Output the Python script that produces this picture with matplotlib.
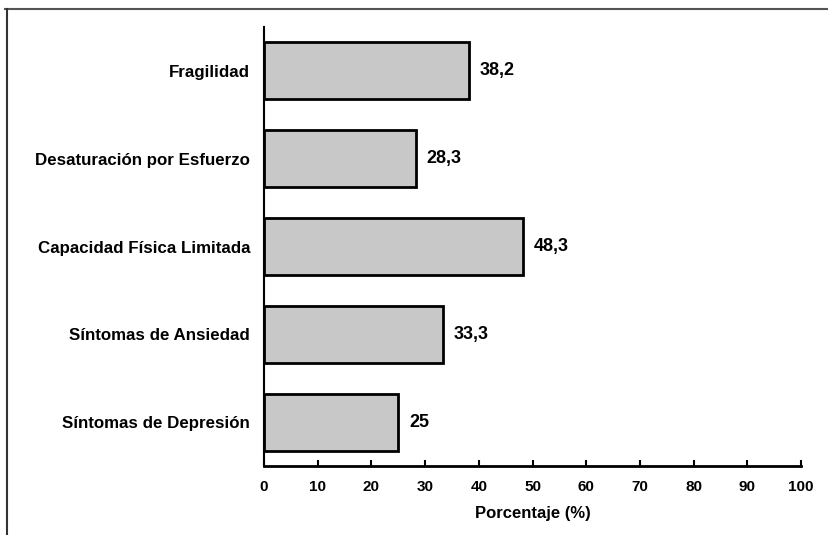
import numpy as np
import matplotlib
matplotlib.use('Agg')
from matplotlib import pyplot as plt
from matplotlib.lines import Line2D

plt.rcParams['font.family'] = ['Liberation Sans', 'DejaVu Sans']
plt.rcParams['font.weight'] = 'bold'

categorias = ['Síntomas de Depresión', 'Síntomas de Ansiedad',
              'Capacidad Física Limitada', 'Desaturación por Esfuerzo', 'Fragilidad']
valores = [25, 33.3, 48.3, 28.3, 38.2]
etiquetas = ['25', '33,3', '48,3', '28,3', '38,2']
xticks = [0, 10, 20, 30, 40, 50, 60, 70, 80, 90, 100]

fig = plt.figure(figsize=(8.29, 5.35), dpi=100)
ax = fig.add_axes([0.3185, 0.129, 0.6477, 0.8205])

pos = np.arange(len(categorias))
ax.barh(pos, valores, height=0.65, color='#c8c8c8', edgecolor='black', linewidth=2)
for p, v, t in zip(pos, valores, etiquetas):
    ax.text(v + 2.0, p, t, va='center', ha='left', fontsize=13, fontweight='bold')

ax.set_xlim(0, 100)
ax.set_ylim(-0.5, 4.5)
ax.set_yticks(pos)
ax.set_yticklabels(categorias, fontsize=12.2, fontweight='bold')
ax.set_xticks(xticks)
ax.set_xticklabels([str(x) for x in xticks], fontsize=11, fontweight='bold')
ax.tick_params(axis='y', length=0, pad=10)
ax.tick_params(axis='x', direction='in', length=4, width=1.5, pad=10)
ax.set_xlabel('Porcentaje (%)', fontsize=12, fontweight='bold', labelpad=9)

for s in ['top', 'right']:
    ax.spines[s].set_visible(False)
ax.spines['left'].set_linewidth(1.5)
ax.spines['bottom'].set_linewidth(2)

# marco exterior
fig.add_artist(Line2D([5/829, 1], [1 - 9/535, 1 - 9/535], color='#555555', lw=1.5))
fig.add_artist(Line2D([7/829, 7/829], [0, 1 - 9/535], color='#333333', lw=1.5))

fig.savefig('out.png', dpi=100)
